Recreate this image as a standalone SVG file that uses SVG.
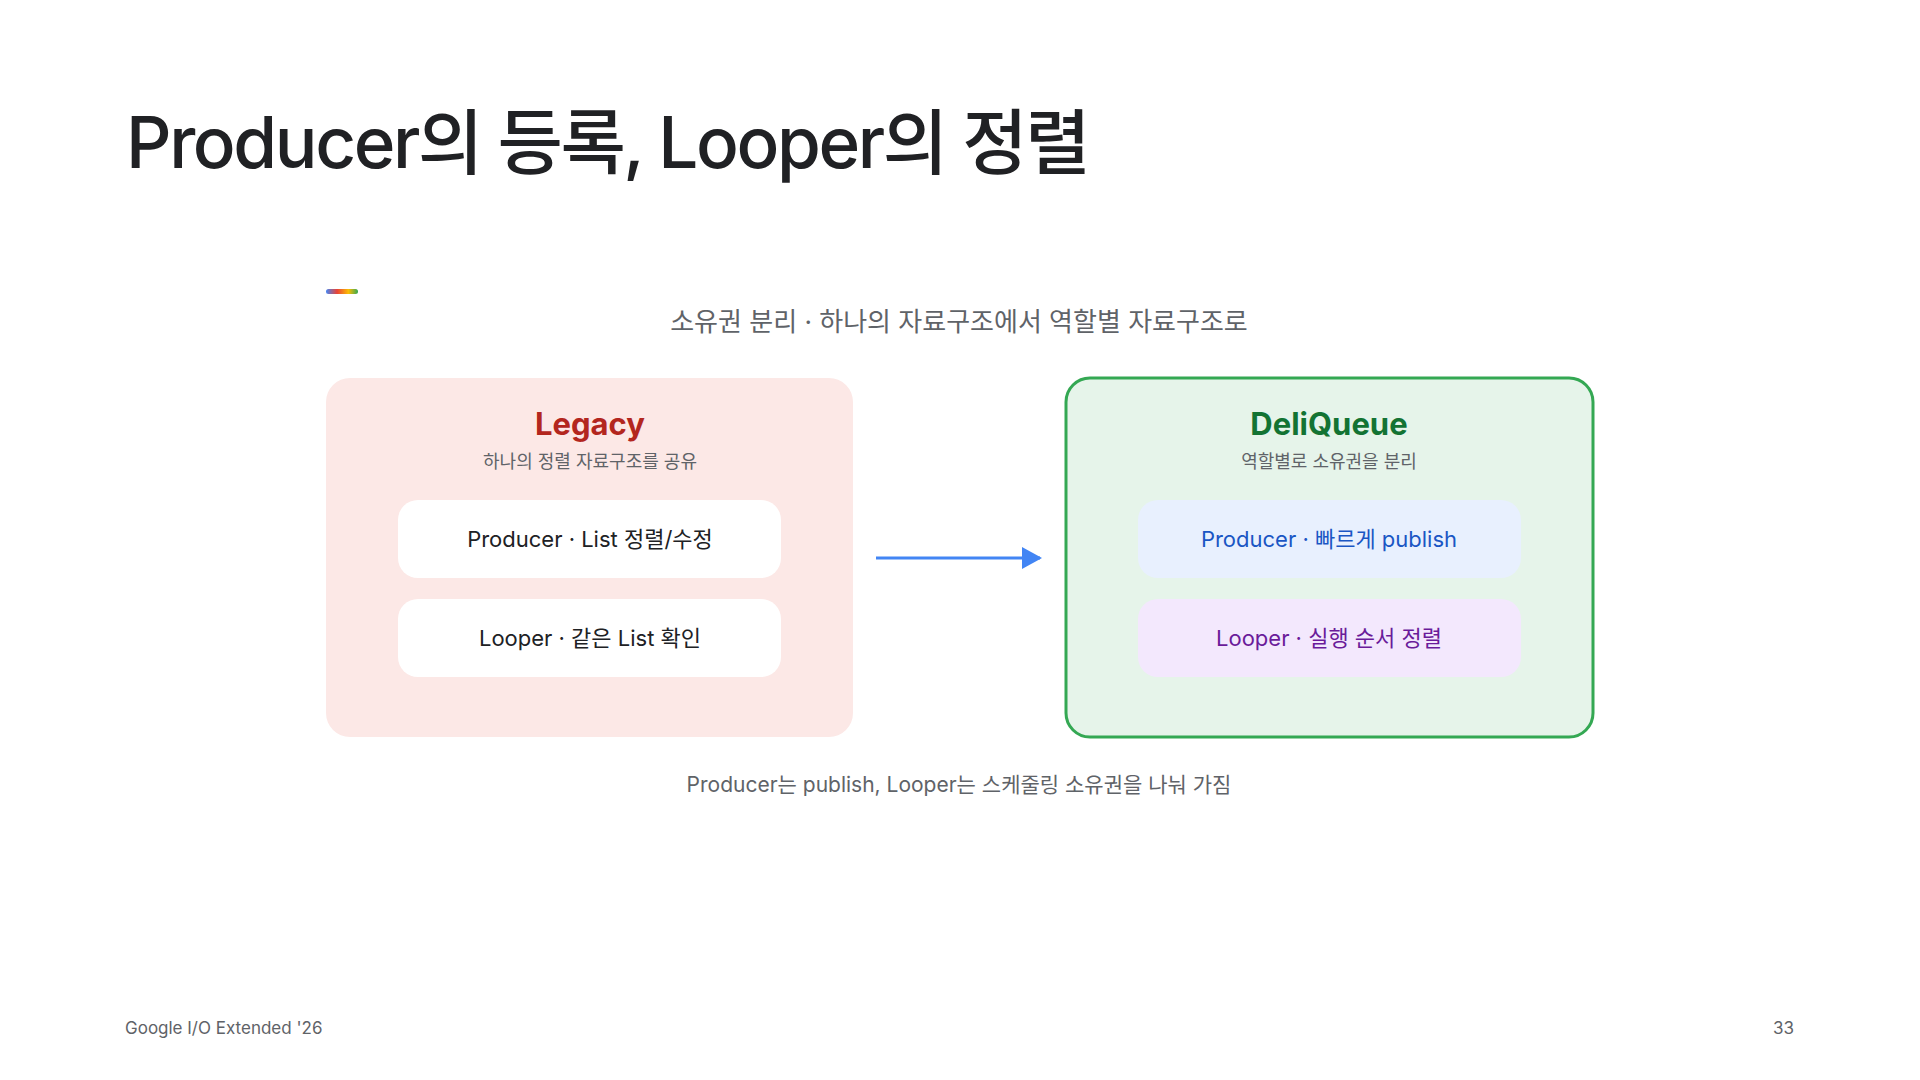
<svg xmlns="http://www.w3.org/2000/svg" width="1920" height="1080" viewBox="0 0 1920 1080">
  <defs>
    <linearGradient id="bar" x1="0" y1="0" x2="1" y2="0">
      <stop offset="0" stop-color="#4285f4"/>
      <stop offset="0.35" stop-color="#ea4335"/>
      <stop offset="0.7" stop-color="#fbbc04"/>
      <stop offset="1" stop-color="#34a853"/>
    </linearGradient>
    <marker id="arrow" viewBox="0 0 20 22" refX="18" refY="11" markerWidth="20" markerHeight="22" markerUnits="userSpaceOnUse" orient="auto">
      <path d="M0,0 L20,11 L0,22 Z" fill="#4285f4"/>
    </marker>
  </defs>
  <style>
    text { font-family: Inter, "Noto Sans CJK KR", sans-serif; }
    .title { font-size: 71px; font-weight: 500; fill: #202124; letter-spacing: -2.4px; }
    .sub { font-size: 26px; fill: #5f6368; text-anchor: middle; }
    .cap { font-size: 21px; fill: #5f6368; text-anchor: middle; }
    .head { font-size: 31px; font-weight: 700; text-anchor: middle; }
    .desc { font-size: 18px; fill: #5f6368; text-anchor: middle; }
    .item { font-size: 22px; text-anchor: middle; }
    .foot { font-size: 17px; fill: #5f6368; }
  </style>
  <rect width="1920" height="1080" fill="#ffffff"/>

  <text class="title" x="126" y="168">Producer의 등록, Looper의 정렬</text>
  <rect x="326" y="289" width="32" height="5" rx="2.5" fill="url(#bar)"/>
  <text class="sub" x="959" y="331">소유권 분리 · 하나의 자료구조에서 역할별 자료구조로</text>

  <g id="legacy">
    <rect x="326" y="378" width="527" height="359" rx="24" fill="#fce8e6"/>
    <text class="head" x="590" y="435" fill="#b3261e">Legacy</text>
    <text class="desc" x="590" y="468">하나의 정렬 자료구조를 공유</text>
  </g>
  <g id="legacy-producer">
    <rect x="398" y="500" width="383" height="78" rx="20" fill="#ffffff"/>
    <text class="item" x="590" y="547" fill="#202124">Producer · List 정렬/수정</text>
  </g>
  <g id="legacy-looper">
    <rect x="398" y="599" width="383" height="78" rx="20" fill="#ffffff"/>
    <text class="item" x="590" y="646" fill="#202124">Looper · 같은 List 확인</text>
  </g>

  <g id="deliqueue">
    <rect x="1066" y="378" width="527" height="359" rx="24" fill="#e6f4ea" stroke="#34a853" stroke-width="3"/>
    <text class="head" x="1329" y="435" fill="#137333">DeliQueue</text>
    <text class="desc" x="1329" y="468">역할별로 소유권을 분리</text>
  </g>
  <g id="deli-producer">
    <rect x="1138" y="500" width="383" height="78" rx="20" fill="#e8f0fe"/>
    <text class="item" x="1329" y="547" fill="#1a56c4">Producer · 빠르게 publish</text>
  </g>
  <g id="deli-looper">
    <rect x="1138" y="599" width="383" height="78" rx="20" fill="#f3e8fd"/>
    <text class="item" x="1329" y="646" fill="#6a1b9a">Looper · 실행 순서 정렬</text>
  </g>

  <g id="connectors">
    <line x1="876" y1="558" x2="1040" y2="558" stroke="#4285f4" stroke-width="3" marker-end="url(#arrow)"/>
  </g>

  <text class="cap" x="959" y="792">Producer는 publish, Looper는 스케줄링 소유권을 나눠 가짐</text>

  <text class="foot" x="125" y="1034">Google I/O Extended '26</text>
  <text class="foot" x="1794" y="1034" text-anchor="end">33</text>
</svg>
